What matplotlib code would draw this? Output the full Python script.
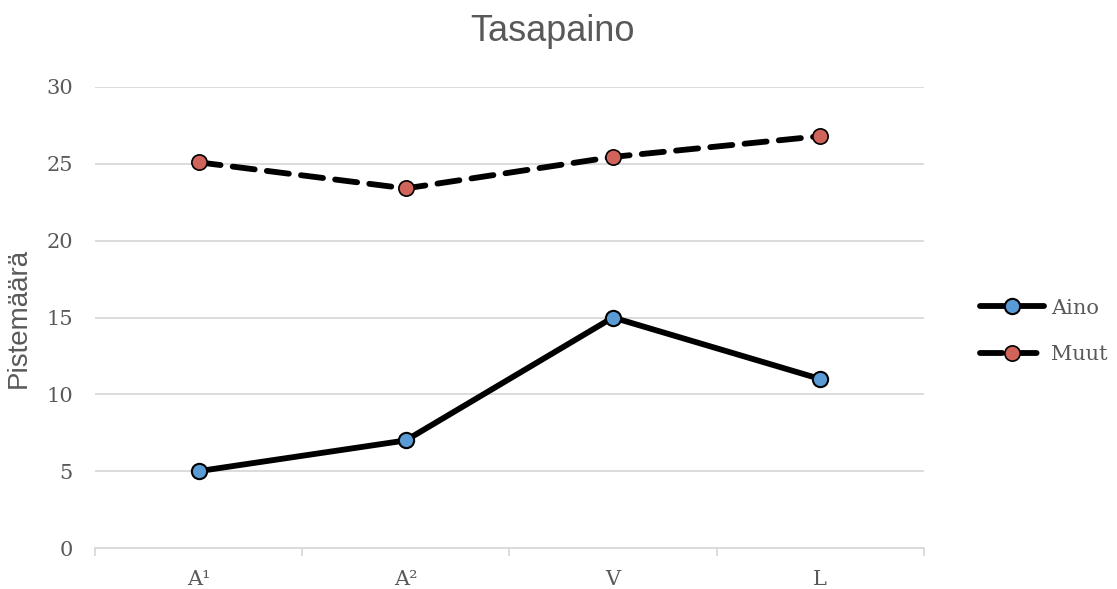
import matplotlib
matplotlib.use("Agg")
from matplotlib import pyplot as plt

# Category labels and scores per group
categories = ["A\u00b9", "A\u00b2", "V", "L"]
aino = [5, 7, 15, 11]
muut = [25.1, 23.4, 25.45, 26.8]
yticks = [0, 5, 10, 15, 20, 25, 30]

GRAY = "#595959"
GRID = "#d9d9d9"

fig = plt.figure(figsize=(11.17, 5.89), dpi=100)
ax = fig.add_axes([0.085, 0.0696, 0.742, 0.7827])

x = list(range(len(categories)))
ax.plot(x, aino, color="black", linewidth=4.2, marker="o", markersize=11,
        markerfacecolor="#5b9bd5", markeredgecolor="black", markeredgewidth=1.5,
        solid_capstyle="round", label="Aino", zorder=3)
ax.plot(x, muut, color="black", linewidth=4.2, marker="o", markersize=11,
        markerfacecolor="#d0635a", markeredgecolor="black", markeredgewidth=1.2,
        dashes=(3.8, 2.1), dash_capstyle="round", label="Muut", zorder=3)

ax.set_xlim(-0.5, len(categories) - 0.5)
ax.set_ylim(0, 30)
ax.set_yticks(yticks)
ax.set_xticks(x)
ax.set_xticklabels(categories)

# Category boundary ticks on the x axis
ax.set_xticks([i - 0.5 for i in range(len(categories) + 1)], minor=True)
ax.tick_params(axis="x", which="major", length=0, pad=16)
ax.tick_params(axis="x", which="minor", length=6, color=GRID, width=1.3)
ax.tick_params(axis="y", length=0, pad=16)
for lbl in ax.get_xticklabels() + ax.get_yticklabels():
    lbl.set_family("DejaVu Serif")
    lbl.set_fontsize(15)
    lbl.set_color(GRAY)

ax.grid(axis="y", color=GRID, linewidth=1.3)
ax.set_axisbelow(True)
for side in ["top", "right", "left"]:
    ax.spines[side].set_visible(False)
ax.spines["bottom"].set_color(GRID)
ax.spines["bottom"].set_linewidth(1.3)

ax.set_ylabel("Pistemäärä", family="Liberation Sans", fontsize=20, color=GRAY)
ax.yaxis.set_label_coords(-0.076, 0.5)
fig.text(0.495, 0.946, "Tasapaino", family="Liberation Sans", fontsize=26,
         color=GRAY, ha="center", va="center")

leg = ax.legend(loc="center left", bbox_to_anchor=(1.045, 0.47), frameon=False,
                prop={"family": "DejaVu Serif", "size": 15},
                handlelength=3.1, handletextpad=0.3, labelspacing=1.3)
for t in leg.get_texts():
    t.set_color(GRAY)

fig.savefig("out.png", dpi=100)
